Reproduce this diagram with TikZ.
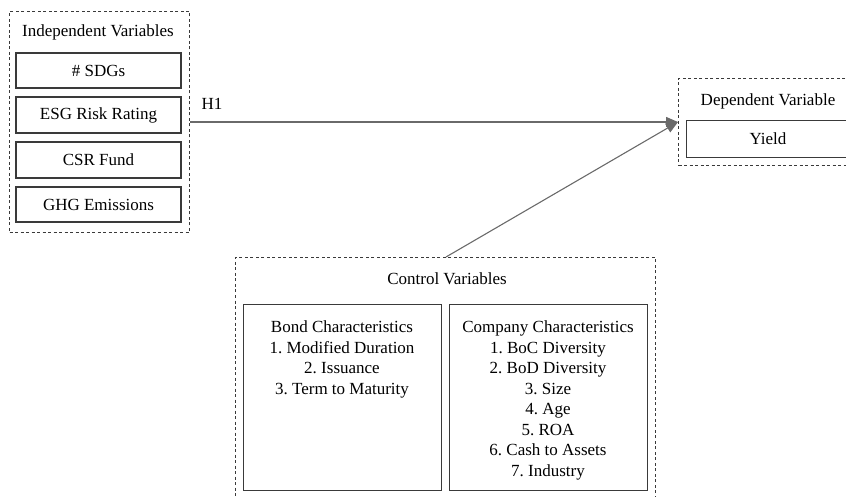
\documentclass[tikz,border=0pt]{standalone}
\usepackage{fontspec}
\setmainfont{Liberation Serif}
\usetikzlibrary{arrows.meta}
\definecolor{boxline}{HTML}{3A3A3A}
\definecolor{arrowc}{HTML}{6A6A6A}
\frenchspacing
\tikzset{
  grp/.style={draw=boxline, line width=1pt, dash pattern=on 3pt off 2.5pt, inner sep=0pt},
  var/.style={draw=boxline, line width=1.1pt, inner sep=0pt, font=\fontsize{17}{20}\selectfont},
  ttl/.style={inner sep=0pt, font=\fontsize{17}{20}\selectfont},
  conn/.style={draw=arrowc, line width=1.3pt, -{Triangle[length=12pt,width=10pt]}},
  charbox/.style={draw=boxline, line width=1.1pt, minimum width=198pt, minimum height=186pt, anchor=north west, inner sep=0pt},
  list/.style={inner sep=0pt, align=center, anchor=north, font=\fontsize{17}{20.5}\selectfont},
}
\begin{document}
\begin{tikzpicture}[x=1pt,y=-1pt]
\useasboundingbox (0,0) rectangle (846,497);
\begin{scope}
\clip (0,0) rectangle (846,497);
% independent
\node[grp, minimum width=180pt, minimum height=221pt, anchor=north west] (ind) at (9,11) {};
\node[ttl] (indt) at (98,32) {Independent Variables};
\node[var, minimum width=165pt, minimum height=35pt] (sdg) at (98.5,70.5) {\# SDGs};
\node[var, minimum width=165pt, minimum height=36pt] (esg) at (98.5,115) {ESG Risk Rating};
\node[var, minimum width=165pt, minimum height=36pt] (csr) at (98.5,160) {CSR Fund};
\node[var, minimum width=165pt, minimum height=35pt] (ghg) at (98.5,204.5) {GHG Emissions};
% dependent
\node[grp, minimum width=180pt, minimum height=87pt, anchor=north west] (dep) at (678,78) {};
\node[ttl] (dept) at (768,101) {Dependent Variable};
\node[var, minimum width=170pt, minimum height=37pt, anchor=north west] (yld) at (686,120) {};
\node[ttl] (yldt) at (768,138.5) {Yield};
% control
\node[grp, minimum width=420pt, minimum height=250pt, anchor=north west] (ctl) at (235,257) {};
\node[ttl] (ctlt) at (447,279) {Control Variables};
\node[charbox] (bond) at (243,304) {};
\node[charbox] (comp) at (449,304) {};
\node[list] (bondt) at (342,321) {Bond Characteristics\\1. Modified Duration\\2. Issuance\\3. Term to Maturity};
\node[list] (compt) at (548,321) {Company Characteristics\\1. BoC Diversity\\2. BoD Diversity\\3. Size\\4. Age\\5. ROA\\6. Cash to Assets\\7. Industry};
% connectors
\coordinate (hend) at (678,122);
\draw[conn] (ind.east |- hend) -- (hend);
\node[ttl] (h1) at (212,104) {H1};
\draw[conn, line width=1.1pt] (ctl.north -| 446,0) -- (hend);
\end{scope}
\end{tikzpicture}
\end{document}
